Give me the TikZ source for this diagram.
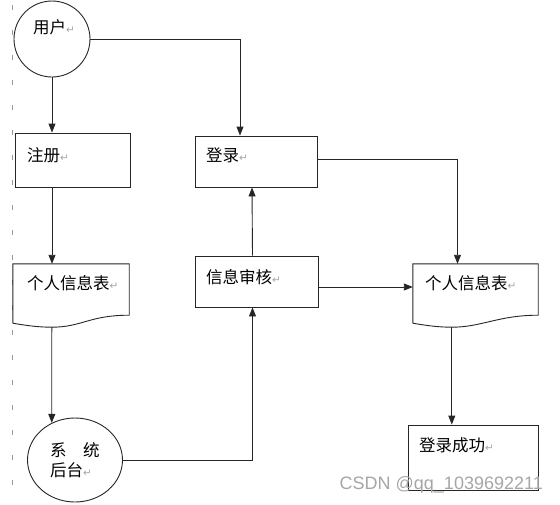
\documentclass[tikz,border=0pt]{standalone}
\usepackage{fontspec}
\usetikzlibrary{positioning,calc,arrows.meta,shapes.geometric}
\newfontfamily\cjk{Noto Sans CJK SC}
\newfontfamily\symfont{DejaVu Sans}
\newfontfamily\markfont{Liberation Sans}
\newcommand{\ret}{{\color{gray!70}\symfont\fontsize{10.5}{10.5}\selectfont ↵}}

\begin{document}
\begin{tikzpicture}[x=1pt, y=-1pt,
  stroke/.style={draw=black!85, line width=0.9pt},
  flow/.style={stroke, -{Triangle[width=7pt,length=9pt]}},
  box/.style={stroke, rectangle, inner sep=0pt},
  doc/.style={rectangle, inner sep=0pt},
  cjktext/.style={font=\cjk\fontsize{16.5}{20}\selectfont, anchor=west, inner sep=0pt, align=left}]
\useasboundingbox (0,0) rectangle (560,504);

% left dashed margin
\draw[gray!80, line width=0.6pt, dash pattern=on 5pt off 20pt] (12.5,5) -- (12.5,504);

% circles
\node[stroke, circle, minimum size=76pt, inner sep=0pt] (user) at (52,39) {};
\node[stroke, ellipse, minimum width=95pt, minimum height=84pt, inner sep=0pt] (sys) at (75,460) {};

% boxes
\node[box, minimum width=115pt, minimum height=54pt] (reg) at (72.5,160) {};
\node[box, minimum width=122pt, minimum height=51pt] (login) at (256,161.5) {};
\node[box, minimum width=123pt, minimum height=51pt] (audit) at (256.5,281.5) {};
\node[box, minimum width=130pt, minimum height=65pt] (success) at (473,457.5) {};

% document shapes
\node[doc, minimum width=116pt, minimum height=51pt] (infoL) at (71,289.5) {};
\node[doc, minimum width=125pt, minimum height=51pt] (infoR) at (475.5,289.5) {};
\foreach \d in {infoL,infoR}{
  \coordinate (\d-dip) at ([xshift=39pt,yshift=-12pt]\d.south west);
  \draw[stroke] ([yshift=-8pt]\d.south west) -- (\d.north west) -- (\d.north east) -- (\d.south east)
    .. controls +(-40,0) and +(30,0) .. (\d-dip)
    .. controls +(-15,0) and +(12,2) .. ([yshift=-8pt]\d.south west);
}

% texts
\node[cjktext] (userText) at (33,27) {用户\ret};
\node[cjktext] (regText) at (27,155) {注册\ret};
\node[cjktext] (loginText) at (206,155) {登录\ret};
\node[cjktext] (auditText) at (206,277) {信息审核\ret};
\node[cjktext] (infoLText) at (27,283) {个人信息表\ret};
\node[cjktext] (infoRText) at (425,283) {个人信息表\ret};
\node[cjktext] (successText) at (419,445) {登录成功\ret};
\node[cjktext] (sysText) at (50,460) {系\hspace{1em}统\\后台\ret};

% connectors
\draw[flow] (user.east) -| ([xshift=-16pt]login.north);
\draw[flow] (user.south) -- (user.south |- reg.north);
\draw[flow] (user.south |- reg.south) -- (user.south |- infoL.north);
\draw[flow] (infoL-dip) -- (sys.122);
\draw[flow] (sys.east) -| ([xshift=-4pt]audit.south);
\draw[flow] ([xshift=-4pt]audit.north) -- ([xshift=-4pt]login.south);
\draw[flow] ([yshift=-5.5pt]audit.east) -- ([yshift=-5.5pt]audit.east -| infoR.west);
\draw[flow] ([yshift=2.5pt]login.east) -| ([xshift=-18pt]infoR.north);
\draw[flow] (infoR-dip) -- (infoR-dip |- success.north);

% watermark
\node[font=\markfont\fontsize{18}{18}\selectfont, text=gray!70, anchor=east, inner sep=0pt] (mark) at (543,485) {CSDN @qq\_1039692211};
\end{tikzpicture}
\end{document}
